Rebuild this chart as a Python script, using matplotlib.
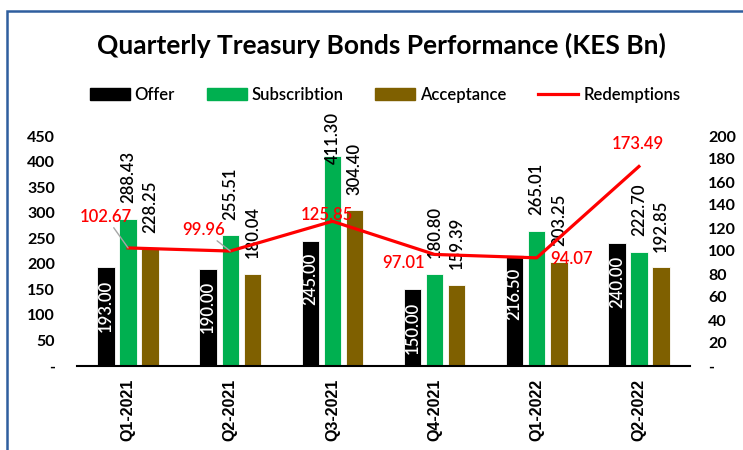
import matplotlib
matplotlib.use("Agg")
import matplotlib.pyplot as plt
import numpy as np
from matplotlib.patches import Rectangle, Patch
from matplotlib.lines import Line2D

plt.rcParams['font.family'] = ['Lato', 'DejaVu Sans']

# ---- data ----
quarters = ["Q1-2021", "Q2-2021", "Q3-2021", "Q4-2021", "Q1-2022", "Q2-2022"]
offer = [193.00, 190.00, 245.00, 150.00, 216.50, 240.00]
subscription = [288.43, 255.51, 411.30, 180.80, 265.01, 222.70]
acceptance = [228.25, 180.04, 304.40, 159.39, 203.25, 192.85]
redemptions = [102.67, 99.96, 125.85, 97.01, 94.07, 173.49]
left_ticks = [0, 50, 100, 150, 200, 250, 300, 350, 400, 450]
right_ticks = [0, 20, 40, 60, 80, 100, 120, 140, 160, 180, 200]

C_OFFER = "#000000"
C_SUB = "#00B050"
C_ACC = "#7F6000"
C_RED = "#FF0000"

fig = plt.figure(figsize=(7.43, 4.5), dpi=100)
W, H = 743, 450

# frame border
fig.patches.append(Rectangle((7 / W, -0.1), 1.2, 1 - 11 / H + 0.1, transform=fig.transFigure,
                             fill=False, edgecolor="#2F5E9E", linewidth=1.8, clip_on=False))

ax = fig.add_axes([77 / W, 1 - 366 / H, (690 - 77) / W, (366 - 136) / H])
ax2 = ax.twinx()

x = np.arange(len(quarters))
bw = 0.17
off = 0.216
ax.bar(x - off, offer, bw, color=C_OFFER, edgecolor="white", linewidth=0.6, zorder=2)
ax.bar(x, subscription, bw, color=C_SUB, edgecolor="white", linewidth=0.6, zorder=2)
ax.bar(x + off, acceptance, bw, color=C_ACC, edgecolor="white", linewidth=0.6, zorder=2)

ax.set_xlim(-0.5, len(quarters) - 0.5)
ax.set_ylim(0, 450)
ax2.set_ylim(0, 200)

ax.set_yticks(left_ticks)
ax.set_yticklabels(["-" if t == 0 else str(t) for t in left_ticks])
ax2.set_yticks(right_ticks)
ax2.set_yticklabels(["-" if t == 0 else str(t) for t in right_ticks])
ax.set_xticks(x)
ax.set_xticklabels(quarters, rotation=90, family=["Liberation Sans", "Arial", "DejaVu Sans"],
                   fontweight="bold", fontsize=11.5)

ax.tick_params(axis="y", length=0, pad=16, labelsize=11.5)
ax2.tick_params(axis="y", length=0, pad=13, labelsize=11.5)
ax.tick_params(axis="x", length=0, pad=9)
for lab in ax.get_yticklabels() + ax2.get_yticklabels():
    lab.set_fontweight("bold")

for a in (ax, ax2):
    for s in ["top", "left", "right"]:
        a.spines[s].set_visible(False)
ax2.spines["bottom"].set_visible(False)
ax.spines["bottom"].set_linewidth(1.5)
ax.spines["bottom"].set_color("black")

# line
ax2.plot(x, redemptions, color=C_RED, linewidth=2.3, zorder=3)

# bar labels
lab_fs = 12
lab_w = "semibold"
for i in range(len(quarters)):
    ax.text(x[i] - off, offer[i] - 24, f"{offer[i]:.2f}", rotation=90, ha="center", va="top",
            color="white", fontsize=lab_fs, fontweight=lab_w, zorder=4)
    ysub = min(subscription[i] + 31, 395)
    ax.text(x[i], ysub, f"{subscription[i]:.2f}", rotation=90, ha="center", va="bottom",
            color="black", fontsize=lab_fs, fontweight=lab_w, zorder=4, clip_on=False)
    ax.text(x[i] + off, acceptance[i] + 31, f"{acceptance[i]:.2f}", rotation=90, ha="center",
            va="bottom", color="black", fontsize=lab_fs, fontweight=lab_w, zorder=4, clip_on=False)

# redemption labels (offsets in pixels -> points)
red_offsets = [(-22, 31), (-27, 21), (-5, 6), (-31, -9), (35, -1), (-1, 22)]
leader = [True, True, False, False, False, False]
for i, (dx, dy) in enumerate(red_offsets):
    kw = {}
    if leader[i]:
        kw["arrowprops"] = dict(arrowstyle="-", color="#A6A6A6", lw=1.0, shrinkA=0, shrinkB=0)
    ax2.annotate(f"{redemptions[i]:.2f}", xy=(x[i], redemptions[i]),
                 xytext=(dx * 0.72, dy * 0.72), textcoords="offset points",
                 ha="center", va="center", color=C_RED, fontsize=12, fontweight="semibold",
                 zorder=5, annotation_clip=False, **kw)

# title and legend
fig.text(381 / W, 1 - 45 / H, "Quarterly Treasury Bonds Performance (KES Bn)", ha="center",
         va="center", fontsize=19, fontweight="bold")
handles = [Patch(color=C_OFFER), Patch(color=C_SUB), Patch(color=C_ACC),
           Line2D([0], [0], color=C_RED, lw=2.3)]
fig.legend(handles, ["Offer", "Subscribtion", "Acceptance", "Redemptions"], loc="center",
           bbox_to_anchor=(385 / W, 1 - 95 / H), ncol=4, frameon=False,
           prop=dict(size=12, weight="semibold"),
           handlelength=2.4, handleheight=0.7, handletextpad=0.3, columnspacing=1.9)

fig.savefig("out.png", dpi=100)
